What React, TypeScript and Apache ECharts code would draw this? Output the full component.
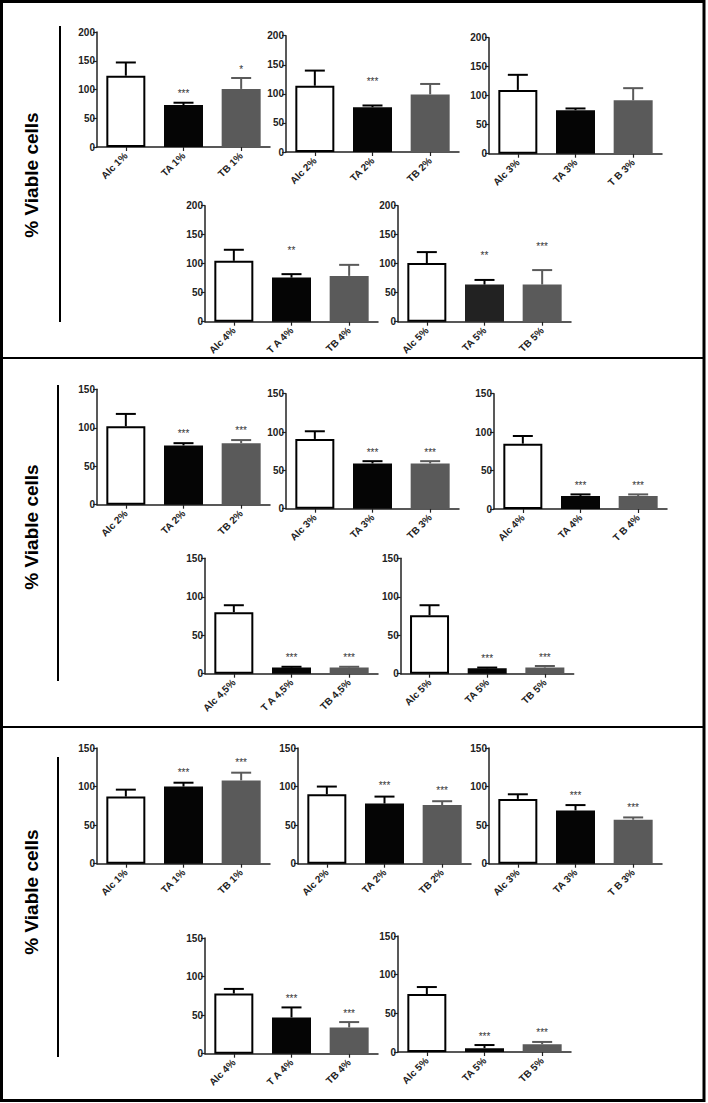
import React, { useEffect, useRef } from "react";
import * as echarts from "echarts";

// ---------- DATA ----------
const categories: string[][] = [
  ["Alc 1%", "TA 1%", "TB 1%"],
  ["Alc 2%", "TA 2%", "TB 2%"],
  ["Alc 3%", "TA 3%", "T B 3%"],
  ["Alc 4%", "T A 4%", "TB 4%"],
  ["Alc 5%", "TA 5%", "TB 5%"],
  ["Alc 2%", "TA 2%", "TB 2%"],
  ["Alc 3%", "TA 3%", "TB 3%"],
  ["Alc 4%", "TA 4%", "T B 4%"],
  ["Alc 4,5%", "T A 4,5%", "TB 4,5%"],
  ["Alc 5%", "TA 5%", "TB 5%"],
  ["Alc 1%", "TA 1%", "TB 1%"],
  ["Alc 2%", "TA 2%", "TB 2%"],
  ["Alc 3%", "TA 3%", "T B 3%"],
  ["Alc 4%", "T A 4%", "TB 4%"],
  ["Alc 5%", "TA 5%", "TB 5%"],
];

const means: number[][] = [
  [124, 73, 101],
  [114, 77, 99],
  [110, 75, 92],
  [105, 76, 79],
  [101, 64, 64],
  [102, 77, 80],
  [91, 59, 59],
  [85, 17, 17],
  [80, 8, 8],
  [76, 7, 8],
  [87, 100, 108],
  [90, 78, 76],
  [84, 69, 57],
  [78, 47, 34],
  [75, 5, 10],
];

const errors: number[][] = [
  [23, 4, 19],
  [26, 3, 18],
  [26, 3, 21],
  [19, 6, 19],
  [19, 8, 25],
  [16, 3, 4],
  [10, 3, 3],
  [10, 2, 2],
  [9, 1, 1],
  [13, 1, 2],
  [9, 5, 10],
  [10, 9, 5],
  [6, 7, 3],
  [6, 13, 7],
  [9, 4, 3],
];

const stars: string[][] = [
  ["", "***", "*"],
  ["", "***", ""],
  ["", "", ""],
  ["", "**", ""],
  ["", "**", "***"],
  ["", "***", "***"],
  ["", "***", "***"],
  ["", "***", "***"],
  ["", "***", "***"],
  ["", "***", "***"],
  ["", "***", "***"],
  ["", "***", "***"],
  ["", "***", "***"],
  ["", "***", "***"],
  ["", "***", "***"],
];

const yMaxes: number[] = [200, 200, 200, 200, 200, 150, 150, 150, 150, 150, 150, 150, 150, 150, 150];
const yTitle = "% Viable cells";

// ---------- LAYOUT / STYLE ----------
const panels = [
  { left: 97, top: 32, bottom: 147, gap: 9 },
  { left: 286, top: 35.7, bottom: 152, gap: 24 },
  { left: 489, top: 37.7, bottom: 153.7, gap: 9 },
  { left: 205, top: 205.7, bottom: 321.7, gap: 24 },
  { left: 398, top: 205.7, bottom: 321.7, gap: 24 },
  { left: 97, top: 389.3, bottom: 504.7, gap: 10 },
  { left: 286, top: 393.7, bottom: 508.7, gap: 9 },
  { left: 494, top: 393.7, bottom: 509, gap: 9 },
  { left: 205, top: 558.3, bottom: 673.7, gap: 9 },
  { left: 400.7, top: 558.3, bottom: 673.7, gap: 9 },
  { left: 97, top: 748, bottom: 863.7, gap: 10 },
  { left: 298, top: 748, bottom: 863.7, gap: 11 },
  { left: 489, top: 748, bottom: 863.7, gap: 10 },
  { left: 205, top: 938, bottom: 1053.7, gap: 9 },
  { left: 398, top: 936, bottom: 1052, gap: 9 },
];
const PANEL_W = 173;
const FONT = "'Liberation Sans', Arial, Helvetica, sans-serif";
const barFills = ["#ffffff", "#050505", "#5a5a5a"];
const errStrokes = ["#000000", "#000000", "#5a5a5a"];
const AXIS_COLOR = "#222";
const STAR_COLOR = "#333333";

export default function App() {
  const ref = useRef<HTMLDivElement>(null);

  useEffect(() => {
    if (!ref.current) return;
    const chart = echarts.init(ref.current, undefined, { renderer: "svg" });

    const grid: any[] = [];
    const xAxis: any[] = [];
    const yAxis: any[] = [];
    const series: any[] = [];

    panels.forEach((p, k) => {
      grid.push({ left: p.left, top: p.top, width: PANEL_W, height: p.bottom - p.top, containLabel: false });
      xAxis.push({
        type: "category",
        gridIndex: k,
        data: categories[k],
        axisLine: { show: true, lineStyle: { color: AXIS_COLOR, width: 1.5 } },
        axisTick: { show: true, alignWithLabel: true, length: 4, lineStyle: { color: AXIS_COLOR, width: 1.2 } },
        axisLabel: {
          interval: 0,
          rotate: 45,
          margin: 7,
          fontSize: 10,
          fontWeight: "bold",
          fontFamily: FONT,
          color: "#222",
        },
        splitLine: { show: false },
      });
      yAxis.push({
        type: "value",
        gridIndex: k,
        min: 0,
        max: yMaxes[k],
        interval: 50,
        axisLine: { show: true, lineStyle: { color: AXIS_COLOR, width: 1.5 } },
        axisTick: { show: true, length: 4, lineStyle: { color: AXIS_COLOR, width: 1.2 } },
        axisLabel: { fontSize: 10, fontWeight: "bold", fontFamily: FONT, color: "#222", margin: 2 },
        splitLine: { show: false },
      });
      series.push({
        type: "bar",
        xAxisIndex: k,
        yAxisIndex: k,
        barWidth: 39,
        z: 2,
        data: means[k].map((v, i) => ({
          value: v,
          itemStyle: {
            color: k === 4 && i === 1 ? "#222222" : barFills[i],
            borderColor: i === 0 ? "#000" : barFills[i],
            borderWidth: i === 0 ? 2 : 0,
          },
        })),
      });
      const gap = p.gap;
      series.push({
        type: "custom",
        xAxisIndex: k,
        yAxisIndex: k,
        z: 3,
        itemStyle: { color: STAR_COLOR },
        data: means[k].map((v, i) => [i, v, errors[k][i]]),
        encode: { x: 0, y: 1 },
        renderItem: (params: any, api: any) => {
          const i = api.value(0);
          const m = api.value(1);
          const e = api.value(2);
          const base = api.coord([i, m]);
          const top = api.coord([i, m + e]);
          const stroke = errStrokes[i];
          const children: any[] = [
            { type: "line", shape: { x1: base[0], y1: base[1], x2: top[0], y2: top[1] }, style: { stroke, lineWidth: 2 } },
            { type: "line", shape: { x1: top[0] - 10, y1: top[1], x2: top[0] + 10, y2: top[1] }, style: { stroke, lineWidth: 2 } },
          ];
          const s = stars[k][params.dataIndex];
          if (s) {
            children.push({
              type: "text",
              x: top[0],
              y: top[1] - gap,
              style: {
                text: s,
                fontSize: 10,
                fontFamily: FONT,
                fill: STAR_COLOR,
                stroke: "none",
                align: "center",
                verticalAlign: "middle",
              },
            });
          }
          return { type: "group", children };
        },
      });
    });

    const graphic: any[] = [
      { type: "rect", shape: { x: 1.5, y: 1.5, width: 702.5, height: 1099 }, style: { fill: "none", stroke: "#000", lineWidth: 3 } },
      { type: "line", shape: { x1: 0, y1: 358, x2: 705, y2: 358 }, style: { stroke: "#000", lineWidth: 2 } },
      { type: "line", shape: { x1: 0, y1: 727, x2: 705, y2: 727 }, style: { stroke: "#000", lineWidth: 2 } },
      { type: "line", shape: { x1: 60, y1: 26, x2: 60, y2: 322 }, style: { stroke: "#000", lineWidth: 2 } },
      { type: "line", shape: { x1: 58, y1: 385, x2: 58, y2: 681 }, style: { stroke: "#000", lineWidth: 2 } },
      { type: "line", shape: { x1: 58, y1: 757, x2: 58, y2: 1057 }, style: { stroke: "#000", lineWidth: 2 } },
    ];
    [175, 527, 892].forEach((cy) => {
      graphic.push({
        type: "text",
        x: 31,
        y: cy,
        rotation: Math.PI / 2,
        style: {
          text: yTitle,
          fontSize: 19,
          fontWeight: "bold",
          fontFamily: FONT,
          fill: "#000",
          align: "center",
          verticalAlign: "middle",
        },
      });
    });

    chart.setOption({
      animation: false,
      backgroundColor: "#ffffff",
      grid,
      xAxis,
      yAxis,
      series,
      graphic,
    });

    return () => chart.dispose();
  }, []);

  return (
    <div
      ref={ref}
      style={{ position: "absolute", left: 0, top: 0, width: 708, height: 1103 }}
    />
  );
}
